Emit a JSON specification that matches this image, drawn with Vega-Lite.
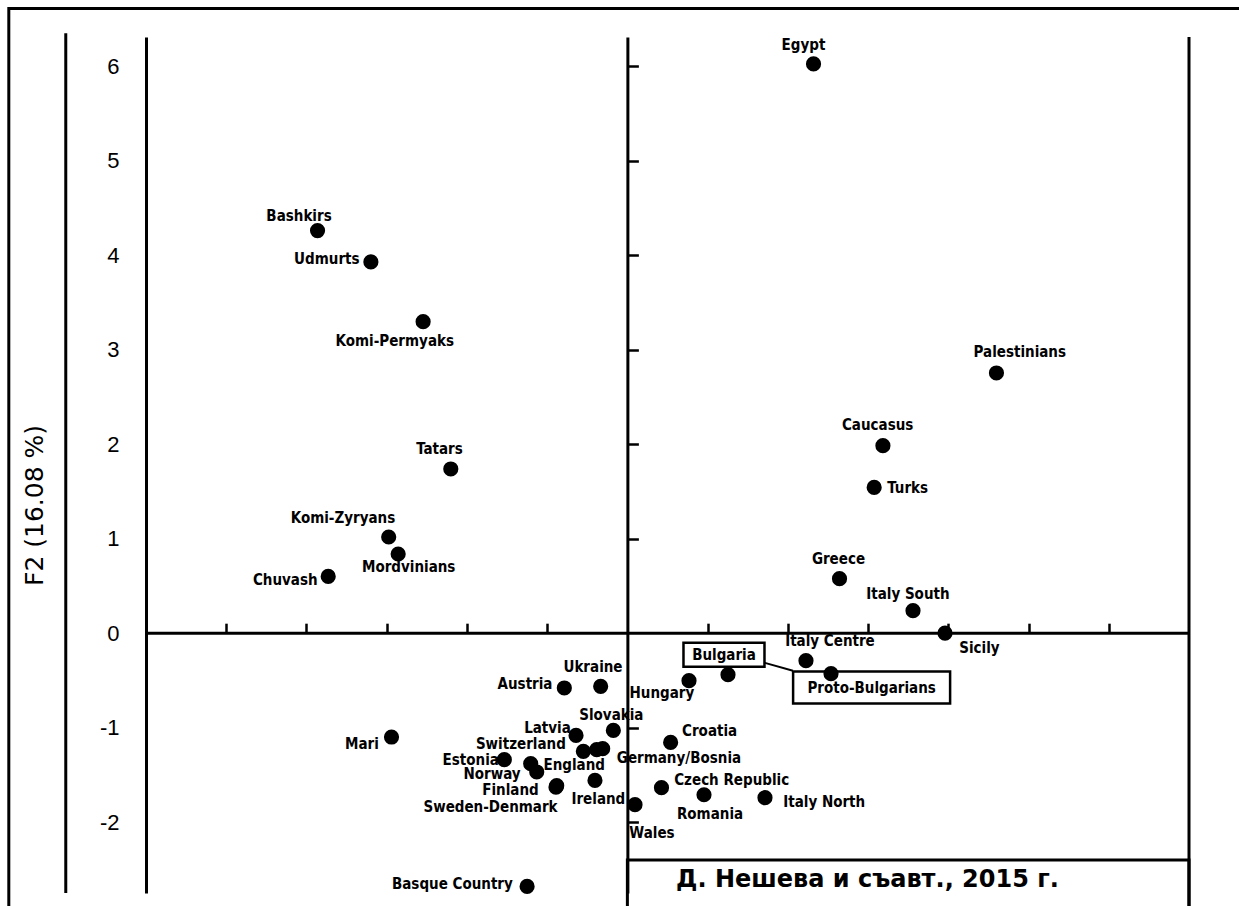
{
  "$schema": "https://vega.github.io/schema/vega-lite/v6.json",
  "width": 1043,
  "height": 856,
  "autosize": "none",
  "padding": {"left": 146, "top": 37, "right": 50, "bottom": 13},
  "background": "white",
  "config": {"view": {"stroke": null}},
  "datasets": {
    "pops": [
      {"name": "Egypt", "label": "Egypt", "x": 2.32, "y": 6.025, "lx": 2.195, "ly": 6.224},
      {"name": "Bashkirs", "label": "Bashkirs", "x": -3.862, "y": 4.261, "lx": -4.093, "ly": 4.419},
      {"name": "Udmurts", "label": "Udmurts", "x": -3.197, "y": 3.929, "lx": -3.746, "ly": 3.959},
      {"name": "Komi-Permyaks", "label": "Komi-Permyaks", "x": -2.546, "y": 3.297, "lx": -2.899, "ly": 3.096},
      {"name": "Tatars", "label": "Tatars", "x": -2.201, "y": 1.738, "lx": -2.342, "ly": 1.953},
      {"name": "Komi-Zyryans", "label": "Komi-Zyryans", "x": -2.975, "y": 1.018, "lx": -3.545, "ly": 1.223},
      {"name": "Mordvinians", "label": "Mordvinians", "x": -2.857, "y": 0.838, "lx": -2.726, "ly": 0.699},
      {"name": "Chuvash", "label": "Chuvash", "x": -3.729, "y": 0.601, "lx": -4.264, "ly": 0.566},
      {"name": "Palestinians", "label": "Palestinians", "x": 4.6, "y": 2.754, "lx": 4.891, "ly": 2.98},
      {"name": "Caucasus", "label": "Caucasus", "x": 3.185, "y": 1.985, "lx": 3.119, "ly": 2.207},
      {"name": "Turks", "label": "Turks", "x": 3.076, "y": 1.543, "lx": 3.494, "ly": 1.54},
      {"name": "Greece", "label": "Greece", "x": 2.644, "y": 0.577, "lx": 2.631, "ly": 0.781},
      {"name": "Italy South", "label": "Italy South", "x": 3.56, "y": 0.238, "lx": 3.496, "ly": 0.411},
      {"name": "Sicily", "label": "Sicily", "x": 3.959, "y": 0.0, "lx": 4.388, "ly": -0.153},
      {"name": "Italy Centre", "label": "Italy Centre", "x": 2.226, "y": -0.291, "lx": 2.525, "ly": -0.079},
      {"name": "Bulgaria", "label": "Bulgaria", "x": 1.254, "y": -0.439, "lx": 1.204, "ly": -0.229},
      {"name": "Proto-Bulgarians", "label": "Proto-Bulgarians", "x": 2.538, "y": -0.429, "lx": 3.044, "ly": -0.575},
      {"name": "Hungary", "label": "Hungary", "x": 0.768, "y": -0.503, "lx": 0.43, "ly": -0.63},
      {"name": "Ukraine", "label": "Ukraine", "x": -0.333, "y": -0.563, "lx": -0.429, "ly": -0.355},
      {"name": "Austria", "label": "Austria", "x": -0.786, "y": -0.58, "lx": -1.276, "ly": -0.54},
      {"name": "Slovakia", "label": "Slovakia", "x": -0.175, "y": -1.029, "lx": -0.2, "ly": -0.863},
      {"name": "Latvia", "label": "Latvia", "x": -0.64, "y": -1.082, "lx": -0.996, "ly": -1.0},
      {"name": "Switzerland", "label": "Switzerland", "x": -0.549, "y": -1.251, "lx": -1.328, "ly": -1.175},
      {"name": "Germany", "label": "Germany/Bosnia", "x": -0.382, "y": -1.233, "lx": 0.643, "ly": -1.323},
      {"name": "Bosnia", "label": "", "x": -0.308, "y": -1.222, "lx": null, "ly": null},
      {"name": "Croatia", "label": "Croatia", "x": 0.539, "y": -1.156, "lx": 1.025, "ly": -1.032},
      {"name": "Estonia", "label": "Estonia", "x": -1.534, "y": -1.339, "lx": -1.952, "ly": -1.34},
      {"name": "England", "label": "England", "x": -1.205, "y": -1.381, "lx": -0.663, "ly": -1.397},
      {"name": "Norway", "label": "Norway", "x": -1.13, "y": -1.469, "lx": -1.687, "ly": -1.49},
      {"name": "Finland", "label": "Finland", "x": -0.881, "y": -1.614, "lx": -1.457, "ly": -1.665},
      {"name": "Sweden-Denmark", "label": "Sweden-Denmark", "x": -0.89, "y": -1.63, "lx": -1.706, "ly": -1.84},
      {"name": "Ireland", "label": "Ireland", "x": -0.404, "y": -1.558, "lx": -0.362, "ly": -1.757},
      {"name": "Wales", "label": "Wales", "x": 0.095, "y": -1.815, "lx": 0.307, "ly": -2.112},
      {"name": "Czech Republic", "label": "Czech Republic", "x": 0.425, "y": -1.635, "lx": 1.3, "ly": -1.551},
      {"name": "Romania", "label": "Romania", "x": 0.955, "y": -1.71, "lx": 1.03, "ly": -1.911},
      {"name": "Italy North", "label": "Italy North", "x": 1.715, "y": -1.741, "lx": 2.453, "ly": -1.784},
      {"name": "Mari", "label": "Mari", "x": -2.94, "y": -1.099, "lx": -3.308, "ly": -1.17},
      {"name": "Basque Country", "label": "Basque Country", "x": -1.25, "y": -2.68, "lx": -2.181, "ly": -2.657}
    ]
  },
  "resolve": {"axis": {"x": "independent", "y": "independent"}},
  "layer": [
    {
      "data": {"values": [{}]},
      "mark": {"type": "rect", "filled": false, "color": "black", "strokeWidth": 3, "clip": false},
      "encoding": {
        "x": {"datum": -7.71, "type": "quantitative", "scale": {"domain": [-6, 7], "nice": false, "zero": false}, "axis": null},
        "x2": {"datum": 8.5},
        "y": {"datum": 6.612, "type": "quantitative", "scale": {"domain": [-2.75, 6.31], "nice": false, "zero": false}, "axis": null},
        "y2": {"datum": -3.5}
      }
    },
    {
      "data": {"values": [{}]},
      "mark": {"type": "rule", "color": "black", "strokeWidth": 3, "clip": false},
      "encoding": {
        "x": {"datum": -7, "type": "quantitative", "scale": {"domain": [-6, 7], "nice": false, "zero": false}, "axis": null},
        "y": {"datum": 6.35, "type": "quantitative", "scale": {"domain": [-2.75, 6.31], "nice": false, "zero": false}, "axis": null},
        "y2": {"datum": -2.75}
      }
    },
    {
      "data": {"values": [{}]},
      "mark": {"type": "rule", "color": "black", "strokeWidth": 3, "clip": false},
      "encoding": {
        "x": {"datum": 7, "type": "quantitative", "scale": {"domain": [-6, 7], "nice": false, "zero": false}, "axis": null},
        "y": {"datum": 6.31, "type": "quantitative", "scale": {"domain": [-2.75, 6.31], "nice": false, "zero": false}, "axis": null},
        "y2": {"datum": -3.5}
      }
    },
    {
      "data": {"values": [{}]},
      "mark": {"type": "rule", "color": "black", "strokeWidth": 3, "clip": false},
      "encoding": {
        "x": {"datum": -6, "type": "quantitative", "scale": {"domain": [-6, 7], "nice": false, "zero": false}, "axis": null},
        "x2": {"datum": 7},
        "y": {"datum": 0, "type": "quantitative", "scale": {"domain": [-2.75, 6.31], "nice": false, "zero": false}, "axis": null}
      }
    },
    {
      "data": {"values": [{}]},
      "mark": {"type": "rect", "filled": false, "color": "black", "strokeWidth": 3, "clip": false},
      "encoding": {
        "x": {"datum": 0, "type": "quantitative", "scale": {"domain": [-6, 7], "nice": false, "zero": false}, "axis": null},
        "x2": {"datum": 7},
        "y": {"datum": -2.401, "type": "quantitative", "scale": {"domain": [-2.75, 6.31], "nice": false, "zero": false}, "axis": null},
        "y2": {"datum": -3.5}
      }
    },
    {
      "data": {"values": [{}]},
      "mark": {"type": "text", "text": "Д. Нешева и съавт., 2015 г.", "font": "DejaVu Sans", "fontSize": 24, "fontWeight": "bold", "color": "black", "align": "center", "baseline": "middle", "clip": false},
      "encoding": {
        "x": {"datum": 2.993, "type": "quantitative", "scale": {"domain": [-6, 7], "nice": false, "zero": false}, "axis": null},
        "y": {"datum": -2.615, "type": "quantitative", "scale": {"domain": [-2.75, 6.31], "nice": false, "zero": false}, "axis": null}
      }
    },
    {
      "data": {"values": [{}]},
      "mark": {"type": "rule", "color": "black", "strokeWidth": 2},
      "encoding": {
        "x": {"datum": 1.703, "type": "quantitative", "scale": {"domain": [-6, 7], "nice": false, "zero": false}, "axis": null},
        "y": {"datum": -0.312, "type": "quantitative", "scale": {"domain": [-2.75, 6.31], "nice": false, "zero": false}, "axis": null},
        "x2": {"datum": 2.064},
        "y2": {"datum": -0.397}
      }
    },
    {
      "data": {"name": "pops"},
      "mark": {"type": "circle", "color": "black", "size": 230, "opacity": 1},
      "encoding": {
        "x": {"field": "x", "type": "quantitative", "scale": {"domain": [-6, 7], "nice": false, "zero": false},
          "axis": {"orient": "top", "offset": -596.18, "zindex": 1, "domain": false, "ticks": true, "tickColor": "black", "tickWidth": 2.5, "tickSize": 10, "labels": false, "grid": false, "title": null, "values": [-5, -4, -3, -2, -1, 1, 2, 3, 4, 5, 6]}},
        "y": {"field": "y", "type": "quantitative", "scale": {"domain": [-2.75, 6.31], "nice": false, "zero": false},
          "axis": {"orient": "left", "domain": true, "domainColor": "black", "domainWidth": 3, "ticks": false, "tickSize": 0, "grid": false, "values": [-2, -1, 0, 1, 2, 3, 4, 5, 6], "labelExpr": "datum.value < 0 ? '-' + abs(datum.value) : '' + datum.value", "labelFont": "Liberation Sans", "labelFontSize": 22, "labelColor": "black", "labelPadding": 27, "labelAlign": "right", "labelBaseline": "middle",
            "title": "F2 (16.08 %)", "titleFont": "DejaVu Sans", "titleFontSize": 25, "titleFontWeight": "normal", "titleColor": "black", "titleAngle": -90, "titleX": -112, "titleY": 468, "titleAlign": "center", "titleBaseline": "middle"}}
      }
    },
    {
      "data": {"name": "pops"},
      "mark": {"type": "text", "font": "DejaVu Sans Condensed", "fontSize": 15, "fontWeight": "bold", "color": "black", "align": "center", "baseline": "middle"},
      "encoding": {
        "x": {"field": "lx", "type": "quantitative", "scale": {"domain": [-6, 7], "nice": false, "zero": false}, "axis": null},
        "y": {"field": "ly", "type": "quantitative", "scale": {"domain": [-2.75, 6.31], "nice": false, "zero": false},
          "axis": {"orient": "right", "offset": -561.62, "domain": true, "domainColor": "black", "domainWidth": 3, "ticks": true, "tickColor": "black", "tickWidth": 2.5, "tickSize": 11, "labels": false, "grid": false, "title": null, "values": [-2, -1, 1, 2, 3, 4, 5, 6]}},
        "text": {"field": "label"}
      }
    },
    {
      "data": {"name": "pops"},
      "transform": [{"filter": "datum.name === 'Bulgaria'"}],
      "mark": {"type": "point", "shape": "M-1,-0.296H1V0.296H-1Z", "size": 6561, "filled": false, "color": "black", "strokeWidth": 2.5, "opacity": 1},
      "encoding": {
        "x": {"field": "lx", "type": "quantitative", "scale": {"domain": [-6, 7], "nice": false, "zero": false}, "axis": null},
        "y": {"field": "ly", "type": "quantitative", "scale": {"domain": [-2.75, 6.31], "nice": false, "zero": false}, "axis": null}
      }
    },
    {
      "data": {"name": "pops"},
      "transform": [{"filter": "datum.name === 'Proto-Bulgarians'"}],
      "mark": {"type": "point", "shape": "M-1,-0.204H1V0.204H-1Z", "size": 24649, "filled": false, "color": "black", "strokeWidth": 2.5, "opacity": 1},
      "encoding": {
        "x": {"field": "lx", "type": "quantitative", "scale": {"domain": [-6, 7], "nice": false, "zero": false}, "axis": null},
        "y": {"field": "ly", "type": "quantitative", "scale": {"domain": [-2.75, 6.31], "nice": false, "zero": false}, "axis": null}
      }
    }
  ]
}
